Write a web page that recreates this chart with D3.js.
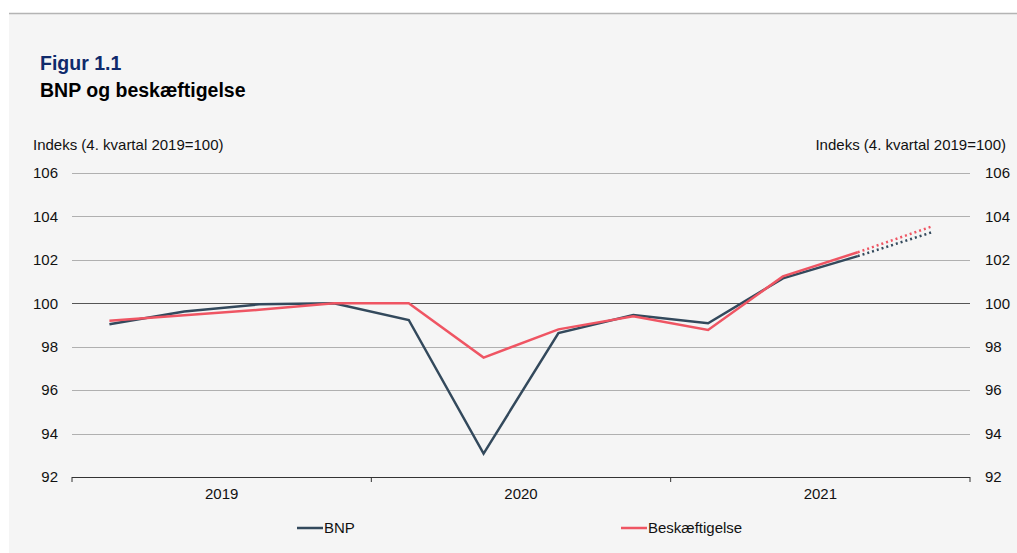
<!DOCTYPE html>
<html><head><meta charset="utf-8">
<script src="https://cdn.jsdelivr.net/npm/d3@7"></script>
<style>body{margin:0;background:#fff;font-family:"Liberation Sans",Arial,sans-serif}</style>
</head><body><svg id="c" width="1017" height="553"></svg>
<script>
const quarters = ["2019K1","2019K2","2019K3","2019K4","2020K1","2020K2","2020K3","2020K4","2021K1","2021K2","2021K3","2021K4"];
const years = ["2019","2020","2021"];
const bnp = [99.03,99.62,99.95,100,99.23,93.08,98.63,99.46,99.08,101.15,102.17,103.28];
const besk = [99.2,99.45,99.7,100,100,97.5,98.8,99.4,98.77,101.24,102.35,103.55];
const yTicks = [92,94,96,98,100,102,104,106];
const forecastFrom = 10;

const FF = "Liberation Sans, Arial, sans-serif";
const svg = d3.select("#c").attr("font-family",FF);
svg.append("rect").attr("x",9).attr("y",14).attr("width",1008).attr("height",539).attr("fill","#f5f5f5");
svg.append("line").attr("x1",9).attr("x2",1017).attr("y1",13.5).attr("y2",13.5).attr("stroke","#b4b4b4").attr("stroke-width",1.5);

const L=72,R=970,T=173,B=477;
const x = d3.scaleBand().domain(quarters).range([L,R]);
const xc = q => x(q)+x.bandwidth()/2;
const y = d3.scaleLinear().domain([92,106]).range([B,T]);

svg.append("text").attr("x",40).attr("y",70).attr("fill","#0f2a6b").attr("font-weight","bold").attr("font-size",19.5).text("Figur 1.1");
svg.append("text").attr("x",40).attr("y",97).attr("fill","#000").attr("font-weight","bold").attr("font-size",19.5).text("BNP og beskæftigelse");
svg.append("text").attr("x",33).attr("y",150).attr("font-size",15).attr("fill","#111").text("Indeks (4. kvartal 2019=100)");
svg.append("text").attr("x",1006).attr("y",150).attr("font-size",15).attr("fill","#111").attr("text-anchor","end").text("Indeks (4. kvartal 2019=100)");

// grid
const g = svg.append("g");
g.selectAll("line.grid").data(yTicks.filter(t=>t!==92)).join("line")
 .attr("x1",L).attr("x2",R).attr("y1",d=>Math.round(y(d))+0.5).attr("y2",d=>Math.round(y(d))+0.5)
 .attr("stroke",d=>d===100?"#555":"#b0b0b0").attr("stroke-width",1);

// y axes (labels only)
const yl = svg.append("g").attr("transform",`translate(${L},0)`).call(d3.axisLeft(y).tickValues(yTicks).tickSize(0).tickPadding(14));
yl.select(".domain").remove();
yl.selectAll("text").attr("font-size",15).attr("fill","#111").attr("font-family",FF);
const yr = svg.append("g").attr("transform",`translate(${R},0)`).call(d3.axisRight(y).tickValues(yTicks).tickSize(0).tickPadding(15));
yr.select(".domain").remove();
yr.selectAll("text").attr("font-size",15).attr("fill","#111").attr("font-family",FF);

// x axis
const xy = d3.scaleBand().domain(years).range([L,R]);
svg.append("line").attr("x1",L).attr("x2",R).attr("y1",B+0.5).attr("y2",B+0.5).attr("stroke","#333");
svg.selectAll("line.yt").data(d3.range(years.length+1)).join("line")
 .attr("x1",i=>L+i*xy.bandwidth()).attr("x2",i=>L+i*xy.bandwidth()).attr("y1",B).attr("y2",B+5).attr("stroke","#333");
svg.selectAll("text.yr").data(years).join("text")
 .attr("x",d=>xy(d)+xy.bandwidth()/2).attr("y",B+22).attr("text-anchor","middle").attr("font-size",15).attr("fill","#111").text(d=>d);

// lines
const series=[{v:bnp,c:"#33495c",name:"BNP"},{v:besk,c:"#ef5563",name:"Beskæftigelse"}];
series.forEach(s=>{
  const solid = s.v.map((d,i)=> i<=forecastFrom? d : null);
  svg.append("path").attr("d",d3.line().defined(d=>d!==null).x((d,i)=>xc(quarters[i])).y(d=>y(d))(solid))
   .attr("fill","none").attr("stroke",s.c).attr("stroke-width",2.5).attr("stroke-linejoin","miter");
  const dots = s.v.map((d,i)=> i>=forecastFrom? d : null);
  svg.append("path").attr("d",d3.line().defined(d=>d!==null).x((d,i)=>xc(quarters[i])).y(d=>y(d))(dots))
   .attr("fill","none").attr("stroke",s.c).attr("stroke-width",2.5).attr("stroke-dasharray","2,3");
});

// legend
const leg=[{x:297,name:"BNP",c:"#33495c"},{x:621,name:"Beskæftigelse",c:"#ef5563"}];
leg.forEach(l=>{
  svg.append("line").attr("x1",l.x).attr("x2",l.x+26).attr("y1",528).attr("y2",528).attr("stroke",l.c).attr("stroke-width",2.5);
  svg.append("text").attr("x",l.x+27).attr("y",533).attr("font-size",15).attr("fill","#111").text(l.name);
});
</script></body></html>
